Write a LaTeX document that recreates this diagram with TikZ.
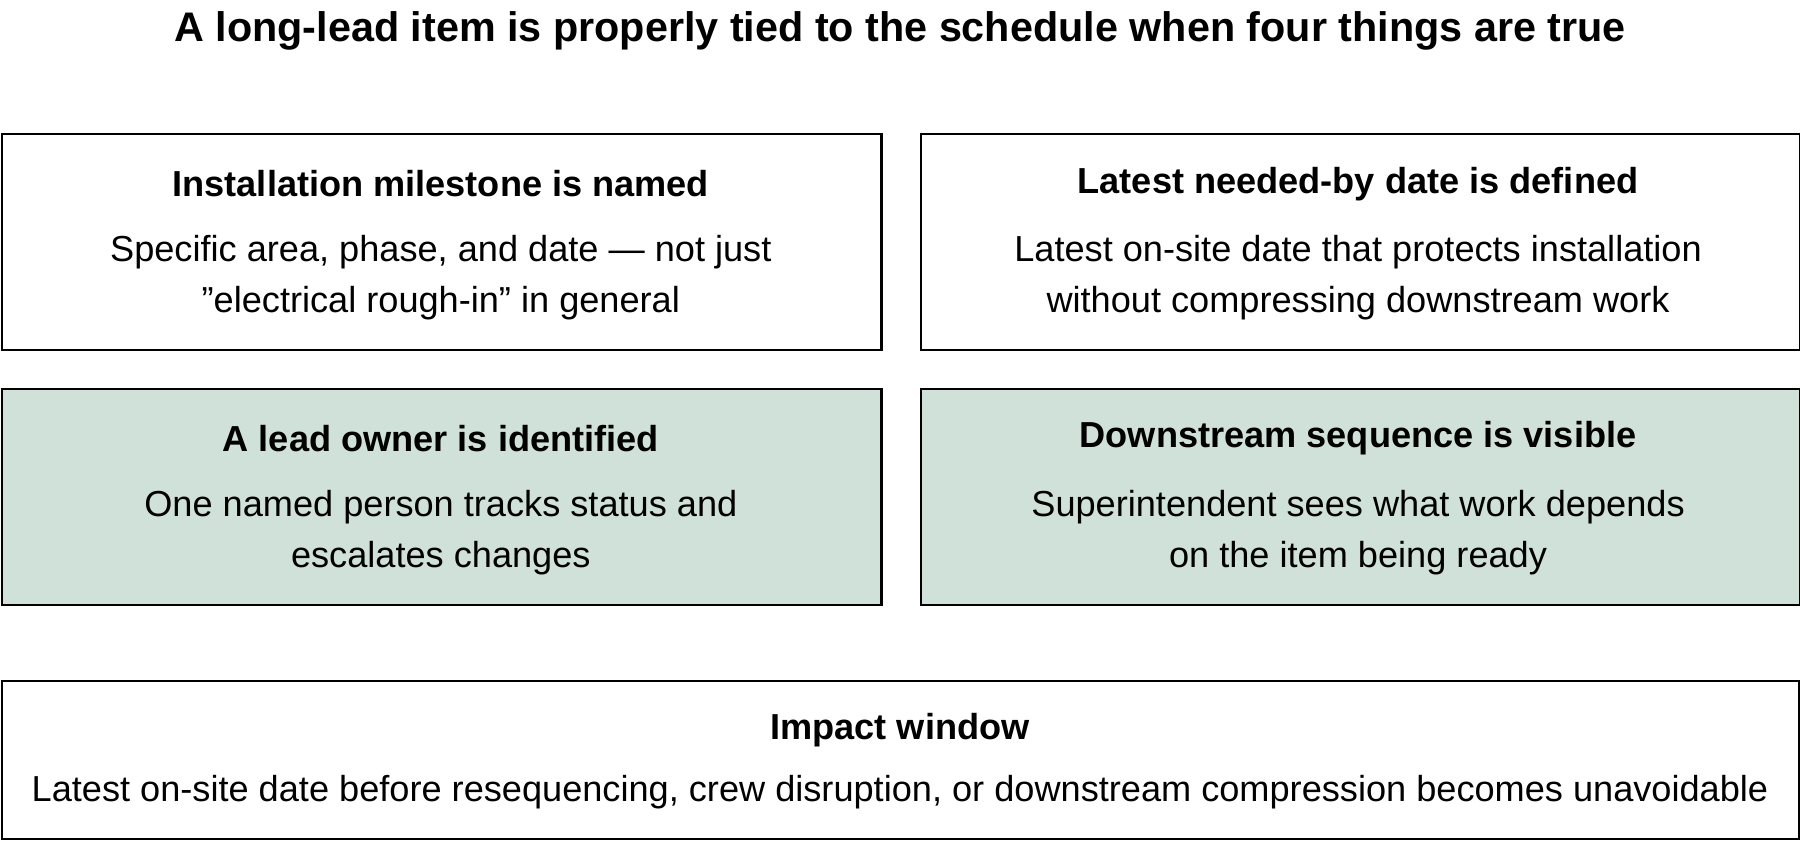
\documentclass[tikz,border=0pt]{standalone}
\usepackage{fontspec}
\setmainfont{Liberation Sans}
\definecolor{mint}{HTML}{CFE1D9}
\begin{document}
\begin{tikzpicture}[x=1pt,y=-1pt,
  box/.style={draw=black,line width=2pt,minimum width=766pt,minimum height=188pt,anchor=north west,inner sep=0},
  hd/.style={font=\fontsize{31.5}{36}\selectfont\bfseries},
  bd/.style={font=\fontsize{31.5}{45}\selectfont,align=center}]
\useasboundingbox (0,0) rectangle (1568,732);
\node[font=\fontsize{36}{40}\selectfont\bfseries] (title) at (784,27) {A long-lead item is properly tied to the schedule when four things are true};
\node[box] (b1) at (1,116) {};
\node[box] (b2) at (801,116) {};
\node[box,fill=mint] (b3) at (1,338) {};
\node[box,fill=mint] (b4) at (801,338) {};
\node[box,minimum width=1565pt,minimum height=138pt] (b5) at (1,592) {};
\node[hd] (h1) at (384,160) {Installation milestone is named};
\node[bd] (t1) at (384,242) {Specific area, phase, and date — not just\\\char"22 electrical rough-in\char"22\ in general};
\node[hd] (h2) at (1183,160) {Latest needed-by date is defined};
\node[bd] (t2) at (1183,242) {Latest on-site date that protects installation\\without compressing downstream work};
\node[hd] (h3) at (384,382) {A lead owner is identified};
\node[bd] (t3) at (384,464) {One named person tracks status and\\escalates changes};
\node[hd] (h4) at (1183,382) {Downstream sequence is visible};
\node[bd] (t4) at (1183,464) {Superintendent sees what work depends\\on the item being ready};
\node[hd] (h5) at (784,636) {Impact window};
\node[bd] (t5) at (784,690) {Latest on-site date before resequencing, crew disruption, or downstream compression becomes unavoidable};
\end{tikzpicture}
\end{document}
